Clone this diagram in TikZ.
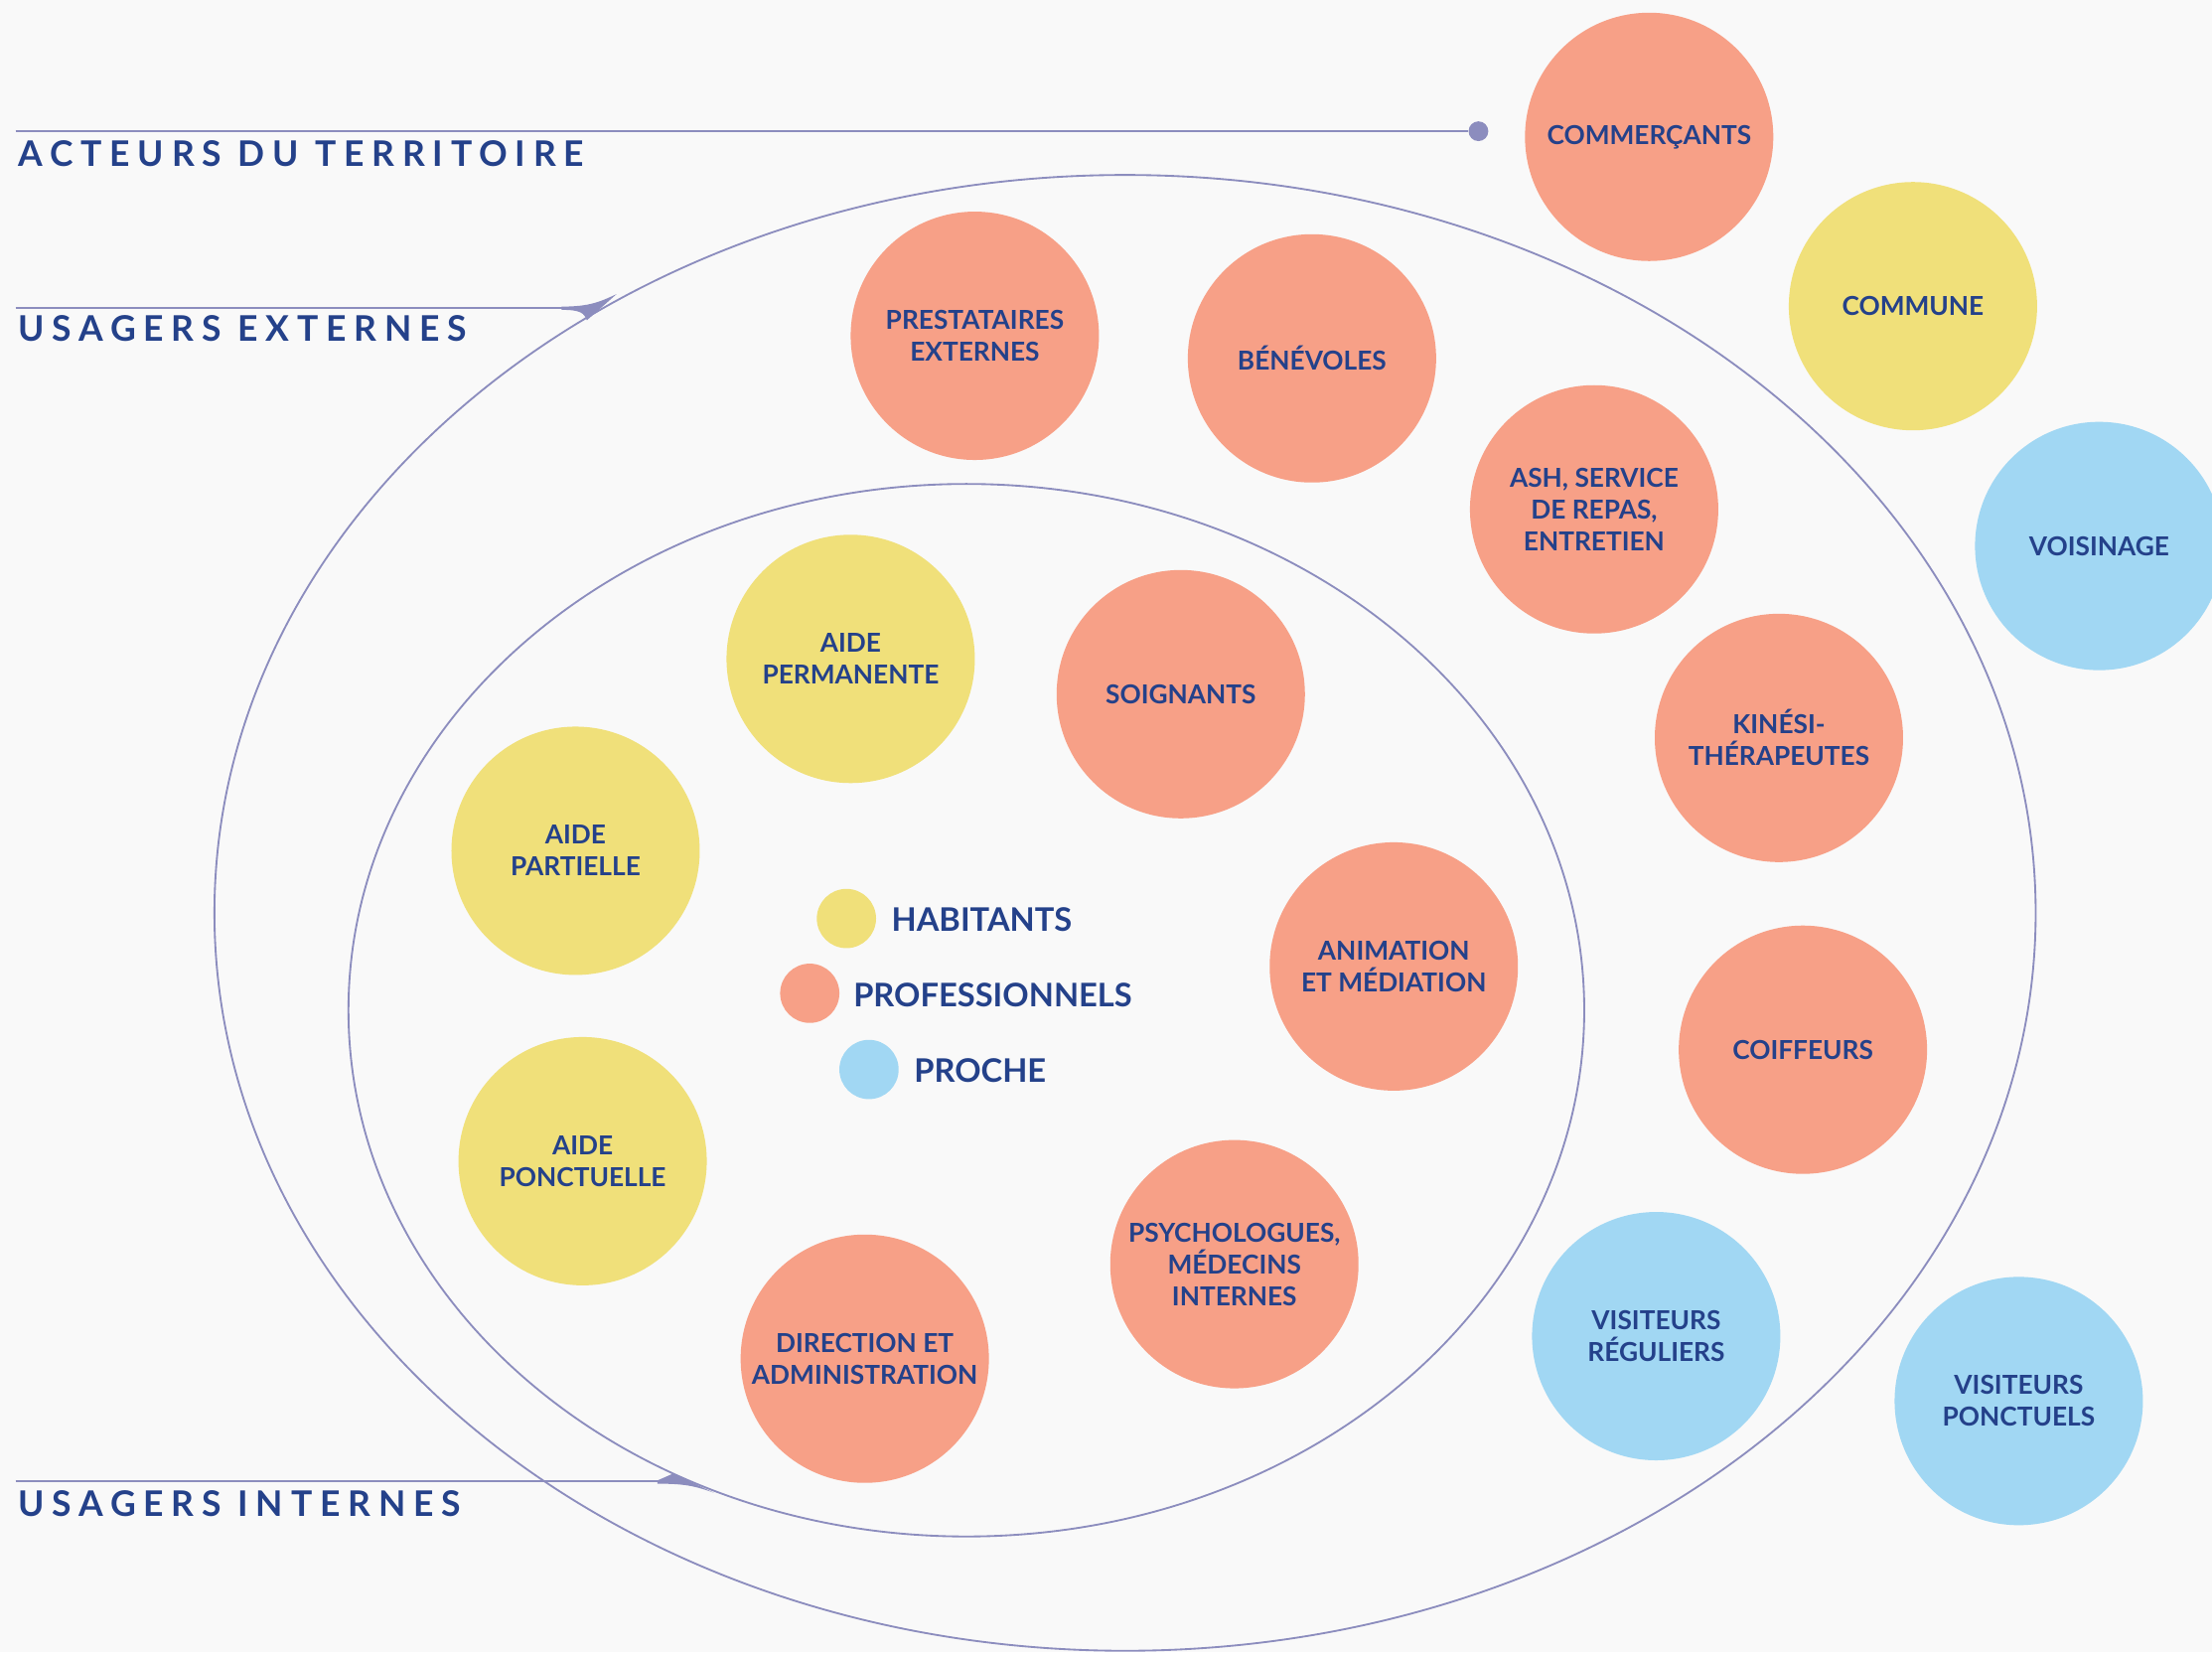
\documentclass[tikz,border=0pt]{standalone}
\usepackage{fontspec}
\setmainfont{Lato}
\newfontfamily\titlefont[LetterSpace=22]{Lato}
\definecolor{saumon}{HTML}{F7A087}
\definecolor{jaune}{HTML}{F0E07A}
\definecolor{bleu}{HTML}{A1D7F3}
\definecolor{marine}{HTML}{24418A}
\definecolor{trait}{HTML}{8C8DBE}
\definecolor{fond}{HTML}{F9F9F9}
\tikzset{
  bulle/.style={circle, minimum size=176, inner sep=0, align=center, text=marine,
    font=\bfseries\fontsize{18.5}{22.5}\selectfont},
  pro/.style={bulle, fill=saumon},
  hab/.style={bulle, fill=jaune},
  pch/.style={bulle, fill=bleu},
  pastille/.style={circle, minimum size=42, inner sep=0},
  legende/.style={anchor=west, text=marine, font=\bfseries\fontsize{23}{26}\selectfont},
  titre/.style={anchor=base west, text=marine, font=\titlefont\bfseries\fontsize{25}{28}\selectfont},
}
\begin{document}
\begin{tikzpicture}[x=1pt, y=-1pt, line width=1.3pt]
    % Fond
    \fill[fond] (0,0) rectangle (1568,1171);
    \clip (0,0) rectangle (1568,1171);

    % Ellissi (usagers externes / internes)
    \draw[trait] (797.5,647) ellipse [x radius=645.5, y radius=523];
    \draw[trait] (685,716) ellipse [x radius=438, y radius=373];

    % Titres
    \node[titre] (acteurs) at (9,118) {ACTEURS DU TERRITOIRE};
    \node[titre] (externes) at (9,242) {USAGERS EXTERNES};
    \node[titre] (internes) at (9,1075) {USAGERS INTERNES};

    % Traits des titres
    \coordinate (a0) at (11,93);
    \node[circle, fill=trait, minimum size=14, inner sep=0] (point) at (1048,93) {};
    \draw[trait] (a0) -- (point);
    \coordinate (e0) at (11,218);
    \coordinate (e1) at (402,218);
    \draw[trait] (e0) -- (e1);
    \fill[trait] (398,217.3) .. controls (418,217.3) and (425,214) .. (437,208.5) -- (416,227) .. controls (414,222) and (412,219.6) .. (398,219.6) -- cycle;
    \coordinate (i0) at (11,1050);
    \coordinate (i1) at (470,1050);
    \draw[trait] (i0) -- (i1);
    \fill[trait] (466,1049.3) -- (477,1044.5) -- (506,1058) .. controls (492,1053) and (485,1051.6) .. (466,1051.6) -- cycle;

    % Acteurs du territoire
    \node[pro] (commercants) at (1169,97) {COMMERÇANTS};
    \node[hab] (commune) at (1356,217) {COMMUNE};
    \node[pch] (voisinage) at (1488,387) {VOISINAGE};

    % Usagers externes
    \node[pro] (prestataires) at (691,238) {PRESTATAIRES\\EXTERNES};
    \node[pro] (benevoles) at (930,254) {BÉNÉVOLES};
    \node[pro] (ash) at (1130,361) {ASH, SERVICE\\DE REPAS,\\ENTRETIEN};
    \node[pro] (kine) at (1261,523) {KINÉSI-\\THÉRAPEUTES};
    \node[pro] (coiffeurs) at (1278,744) {COIFFEURS};
    \node[pch] (reguliers) at (1174,947) {VISITEURS\\RÉGULIERS};
    \node[pch] (ponctuels) at (1431,993) {VISITEURS\\PONCTUELS};

    % Usagers internes
    \node[hab] (permanente) at (603,467) {AIDE\\PERMANENTE};
    \node[pro] (soignants) at (837,492) {SOIGNANTS};
    \node[hab] (partielle) at (408,603) {AIDE\\PARTIELLE};
    \node[pro] (animation) at (988,685) {ANIMATION\\ET MÉDIATION};
    \node[hab] (ponctuelle) at (413,823) {AIDE\\PONCTUELLE};
    \node[pro] (psy) at (875,896) {PSYCHOLOGUES,\\MÉDECINS\\INTERNES};
    \node[pro] (direction) at (613,963) {DIRECTION ET\\ADMINISTRATION};

    % Legende
    \node[pastille, fill=jaune] (lhab) at (600,651) {};
    \node[legende] at (628,652) {HABITANTS};
    \node[pastille, fill=saumon] (lpro) at (574,704) {};
    \node[legende] at (601,705) {PROFESSIONNELS};
    \node[pastille, fill=bleu] (lpch) at (616,758) {};
    \node[legende] at (644,759) {PROCHE};
\end{tikzpicture}
\end{document}
